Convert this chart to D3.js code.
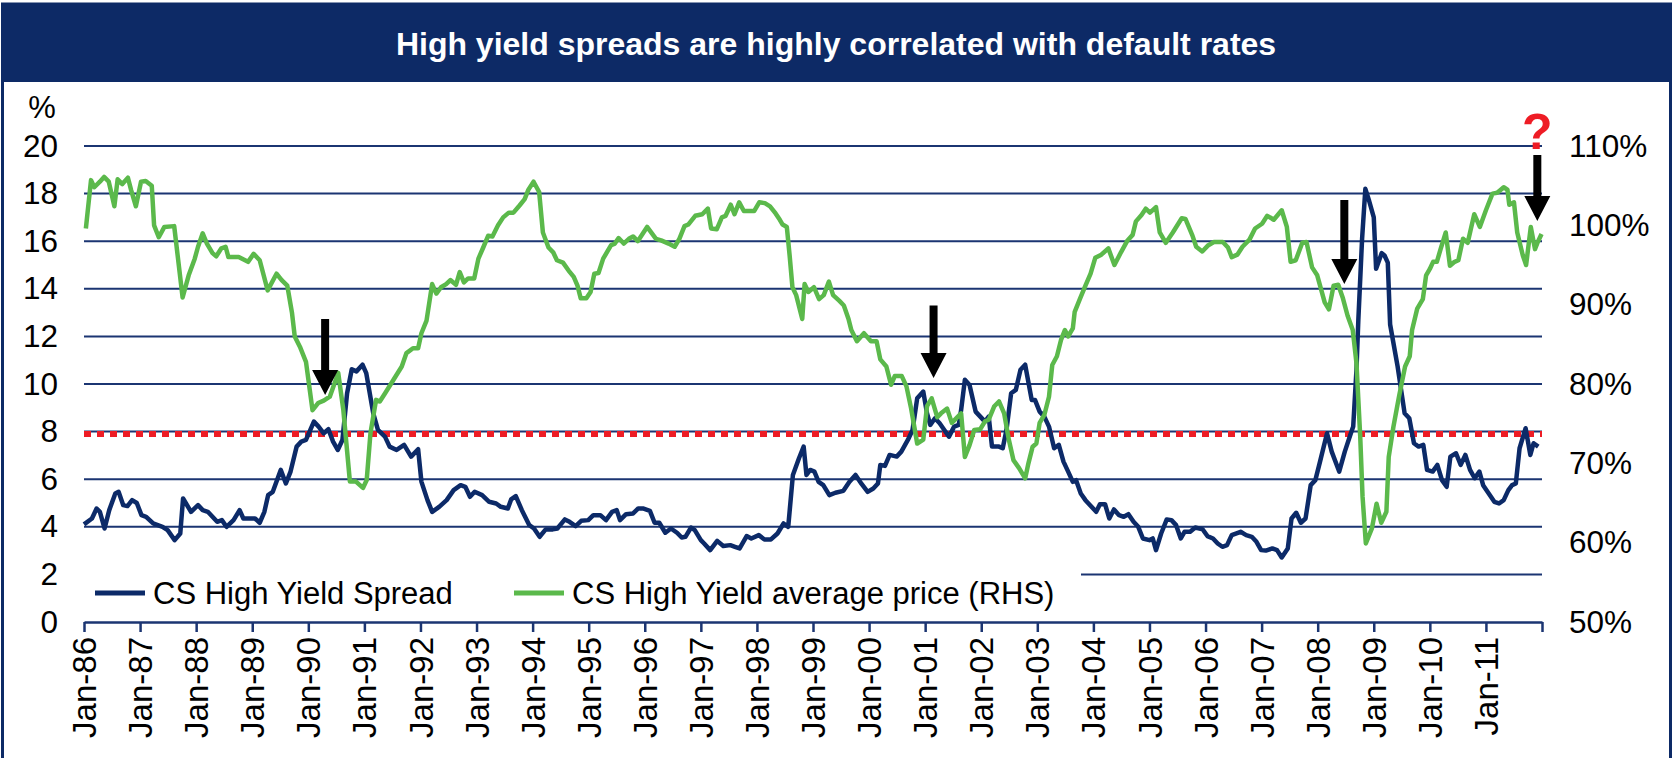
<html>
<head>
<script src="https://cdnjs.cloudflare.com/ajax/libs/d3/7.8.5/d3.min.js"></script>
<style>
    body { margin: 0; background: #ffffff; }
    svg text { font-family: "Liberation Sans", Arial, sans-serif; }
    .grid line { stroke: #1b3572; stroke-width: 2; }
    .axis path, .axis line { stroke: #1b3572; stroke-width: 2.5; }
    .axis text { font-size: 31.5px; fill: #000; }
    .xaxis text { font-size: 33px; }
</style>
</head>
<body>
<svg id="chart" width="1673" height="758"></svg>
<script>
// x axis: months since Jan-86, one label per January
var tickLabels = ["Jan-86","Jan-87","Jan-88","Jan-89","Jan-90","Jan-91","Jan-92","Jan-93","Jan-94","Jan-95",
    "Jan-96","Jan-97","Jan-98","Jan-99","Jan-00","Jan-01","Jan-02","Jan-03","Jan-04","Jan-05",
    "Jan-06","Jan-07","Jan-08","Jan-09","Jan-10","Jan-11"];
var leftTicks = [0,2,4,6,8,10,12,14,16,18,20];
var rightTicks = [50,60,70,80,90,100,110];

// CS High Yield Spread (%)
var spreadMonths = [0,1.7,2.7,3.4,4.4,5.4,6.7,7.4,8.4,9.3,10.3,11.3,12.3,13.3,14.8,16.8,17.9,19.4,20.6,21.2,
    22.9,24.4,25.4,26.5,27.5,28.5,29.5,30.5,32,33.3,34.1,36.6,37.6,38.6,39.4,40.4,42.1,43.2,44.2,45.5,
    46.5,47.5,49.2,50.2,51.3,52.3,53.3,54.3,55.3,56.3,57.3,58.3,59.6,60.4,61.9,62.9,64.4,65.4,66.9,68.5,
    70,71.5,72.2,73.5,74.5,76,77.6,79.1,80.6,81.6,82.6,83.6,85.2,86.7,88.2,89.2,90.7,91.4,92.4,93.7,
    95.3,96.3,97.5,98.8,100.3,101.3,102.9,103.9,105.2,106.4,107.9,109,110.5,111.7,113,114,114.7,116,117.5,118.6,
    119.6,121.1,122.1,123.1,124.4,125.6,126.9,127.9,128.7,129.9,130.7,132,132.7,134,135.5,136.8,138.3,139.3,140.3,141.8,
    142.8,144.4,145.6,147,148.4,149.7,150.7,151.7,153,154,154.6,155.4,156.3,157.2,158.2,159.5,160.8,162.5,163.8,165.1,
    166.4,167.7,168.9,169.9,170.4,171.4,172.4,173.9,174.9,176.3,177.3,178.3,179.6,180.4,181.1,182.1,183.1,184.1,185.1,186.2,
    187.2,187.7,188.5,189.5,190.8,191.8,192.8,193.6,194.3,195.8,196.6,197.4,198.4,199.4,200.4,201.4,202.8,203.5,204.5,205.5,
    206.5,207.6,208.6,209.6,210.6,211.6,212.3,213.3,214.3,215.6,216.6,217.4,218.5,219.4,220.4,221.5,222.5,223.5,224.6,225.6,
    226.6,228,228.7,229.4,230.5,231.7,232.7,233.7,234.7,235.5,236.7,237.8,239.4,240.4,241.6,242.6,243.6,244.6,245.6,247.5,
    248.7,249.9,250.9,251.9,252.9,254.3,255.3,256.3,257.6,258.4,259.4,260.4,261.4,262.5,263.5,264.5,266,267,268.6,269.8,
    271.1,271.6,272.3,272.7,273.5,274.2,275,276,276.5,277.7,278.3,279,279.5,281.1,282.6,283.6,284.6,285.6,286.6,287.4,
    288.6,289.6,290.6,291.6,292.4,293.6,294.6,295.6,296.6,297.6,298.6,299.4,300.6,301.8,302.8,303.8,304.8,305.6,306.4,307.2,
    308.5,309.5,310.2,311.2];
var spreadValues = [4.1,4.35,4.77,4.63,3.93,4.7,5.4,5.47,4.91,4.87,5.12,5.0,4.49,4.42,4.14,4.0,3.86,3.44,3.72,5.19,
    4.63,4.91,4.7,4.63,4.42,4.21,4.28,4.0,4.28,4.7,4.35,4.35,4.17,4.63,5.33,5.47,6.39,5.82,6.32,7.37,
    7.58,7.65,8.42,8.21,7.93,8.1,7.58,7.23,7.65,9.61,10.62,10.53,10.81,10.46,8.77,8.07,7.79,7.37,7.23,7.44,
    6.95,7.26,5.9,5.12,4.63,4.84,5.12,5.54,5.75,5.68,5.26,5.47,5.33,5.05,4.98,4.84,4.77,5.15,5.29,4.7,
    4.07,3.93,3.58,3.89,3.89,3.93,4.31,4.21,4.03,4.25,4.28,4.49,4.49,4.28,4.63,4.7,4.28,4.53,4.56,4.77,
    4.77,4.67,4.17,4.17,3.75,3.93,3.75,3.55,3.58,3.97,3.86,3.44,3.3,3.02,3.41,3.19,3.23,3.16,3.09,3.61,
    3.51,3.65,3.47,3.47,3.72,4.14,4.0,6.18,6.88,7.37,6.18,6.39,6.32,5.89,5.75,5.33,5.43,5.51,5.89,6.18,
    5.8,5.47,5.61,5.82,6.6,6.56,7.02,6.95,7.16,7.65,8.07,9.4,9.68,8.77,8.28,8.56,8.35,8.07,7.79,8.21,
    8.28,8.91,10.18,9.96,8.84,8.63,8.42,8.63,7.37,7.37,7.3,8.07,9.61,9.75,10.6,10.81,9.33,9.33,8.84,8.63,
    8.21,7.3,7.44,6.74,6.32,5.89,5.96,5.4,5.12,4.84,4.63,4.95,4.95,4.35,4.73,4.49,4.42,4.53,4.21,4.0,
    3.51,3.44,3.51,3.02,3.72,4.31,4.28,4.07,3.51,3.79,3.79,3.97,3.89,3.61,3.51,3.3,3.16,3.23,3.65,3.79,
    3.65,3.58,3.37,3.02,3.0,3.09,3.02,2.71,3.09,4.35,4.59,4.17,4.35,5.75,5.96,6.74,7.93,7.16,6.32,7.16,
    7.93,8.21,10.6,12.7,16.1,18.2,17.7,17.0,14.84,15.5,15.4,15.1,12.5,10.74,8.77,8.56,7.51,7.37,7.44,6.39,
    6.32,6.6,5.96,5.68,6.95,7.09,6.6,7.02,6.39,6.04,6.32,5.75,5.4,5.05,4.98,5.12,5.54,5.75,5.82,7.3,
    8.14,7.02,7.51,7.37];

// CS High Yield average price (% of par, RHS)
var priceMonths = [0.4,1.5,2.2,3.4,4.3,5.3,6.5,7.2,8.2,9.4,10.1,11.1,12.2,13.2,14.5,15,16,17.2,19.3,21.1,
    22.4,23.7,24.4,25.4,26.3,27.5,28.3,29.4,30.3,30.9,33.1,35.1,36.3,37.6,39.3,41.2,42.3,43.5,44.5,45.1,
    46.2,47.5,48.9,50.1,51.3,52.6,54.4,55.5,56.9,58.2,59.7,60.5,61.3,62.5,63.3,64.4,66.2,68,69,70.4,
    71.5,72.2,73.3,74.5,75.4,76.4,77.5,78.4,79.6,80.4,81.3,82.2,83.5,84.4,85.5,86.5,87.4,88.6,89.7,90.9,
    91.9,93.2,94.3,95.1,96.2,97.4,98.2,99.4,100.4,101.2,102.5,103.7,104.8,105.6,106.3,107.5,108.4,109.2,110.1,111.1,
    112.1,112.8,113.6,114.4,115.5,116.6,117.5,118.5,120.5,122.4,123.5,125.1,126.4,127.4,128.5,129.3,130.8,132.3,133.5,134.2,
    135.4,136.5,137.3,138.4,139.2,140.2,141.2,143.4,144.5,145.7,146.8,148,148.9,149.5,150.4,151,151.6,152.4,153.7,154.2,
    155,156.2,157.3,158.3,159.4,160.3,161.6,162.6,163.6,164.2,165.4,166.9,168.4,169.6,170.4,171.7,172.7,173.5,175,176,
    177,178.3,179.6,180.4,181.4,182.6,183.4,184.7,185.7,186.7,187.7,188.5,189.5,190.5,191.8,192.8,193.6,194.8,195.8,196.9,
    197.9,198.9,200.1,201.4,202.1,203,203.8,204.5,205.5,206.5,207.2,208.2,209.1,209.9,210.6,211.6,212,213.1,214.3,215.4,
    216.4,217.7,219.2,220.5,221.9,223.3,224.4,225.1,226.3,227.2,228.1,229.4,230.2,231.5,233,234.9,235.7,237.2,238,239.3,
    240.6,241.8,243.7,244.8,245.6,246.8,247.9,249.4,250.6,252.1,253.2,254.6,256.3,257.4,258.2,259.3,260.7,261.6,262.8,263.9,
    264.7,265.5,266.4,267.4,268.4,269.4,270.4,271.5,272.3,273.1,273.6,274.3,275.6,276.6,277.6,278.7,279.2,280.2,281.4,282.7,
    283.7,284.2,285.3,286.5,287.2,288,288.7,289.5,290.3,291.4,292.3,293.3,294.1,295.1,296.1,297.5,298.7,300,301.4,302.4,
    303,303.8,304.6,305,306,306.7,307.9,308.6,309.6,310.5,311.1,311.9];
var priceValues = [99.6,105.7,104.8,105.5,106.1,105.5,102.4,105.8,105.2,106.0,104.4,102.4,105.5,105.6,105.0,100.0,98.5,99.8,99.9,90.9,
    93.7,95.8,97.3,99.0,97.7,96.5,96.1,97.1,97.3,96.0,96.0,95.4,96.4,95.6,91.8,93.9,93.1,92.4,89.0,86.0,
    84.7,82.8,76.7,77.6,77.9,78.4,81.4,76.7,67.7,67.7,66.9,67.9,73.8,78.0,77.8,78.8,80.5,82.2,83.9,84.5,
    84.5,86.4,88.0,92.6,91.4,92.2,92.6,93.1,92.5,94.1,92.8,93.3,93.3,95.8,97.3,98.7,98.6,100.0,101.0,101.6,
    101.6,102.5,103.3,104.5,105.5,104.2,99.1,97.2,96.6,95.6,95.3,94.3,93.5,92.4,90.8,90.8,91.6,93.9,94.0,95.8,
    96.8,97.5,97.7,98.4,97.7,98.3,98.6,98.0,99.8,98.3,98.1,97.7,97.3,98.3,99.9,100.1,101.2,101.4,102.1,99.6,
    99.5,101.0,101.2,102.6,101.4,102.9,101.8,101.8,102.9,102.8,102.4,101.5,100.7,100.1,99.8,96.2,92.2,91.2,88.2,92.6,
    91.6,92.2,90.7,91.2,92.9,91.2,90.5,89.9,88.2,86.8,85.4,86.4,85.4,85.4,83.1,82.2,79.9,81.0,81.0,79.7,
    76.9,72.5,73.0,77.2,78.2,75.8,76.3,76.9,75.1,75.7,76.3,70.8,72.3,74.2,74.3,75.3,75.5,77.2,77.8,76.3,
    73.0,70.4,69.4,68.1,70.0,72.1,72.5,75.1,76.1,78.4,82.4,83.5,85.6,86.8,86.0,87.0,89.1,90.7,92.4,93.9,
    95.9,96.3,97.1,95.0,96.6,98.1,98.8,100.5,101.3,102.1,101.6,102.3,99.1,97.8,99.1,100.9,100.8,98.7,97.3,96.7,
    97.5,97.9,97.9,97.2,96.0,96.3,97.3,98.2,99.6,100.2,101.2,100.7,101.9,99.8,95.4,95.6,97.8,97.9,94.7,93.7,
    92.0,90.3,89.4,92.4,92.5,90.8,88.6,86.8,82.6,73.4,65.8,59.9,61.8,64.9,62.5,63.9,70.8,74.6,78.4,82.2,
    83.5,86.8,89.5,90.7,93.7,94.5,95.4,95.4,97.0,99.1,94.9,95.4,95.6,98.3,97.8,101.4,99.8,101.9,104.0,104.1,
    104.4,104.8,104.5,102.6,102.9,99.1,96.2,95.0,99.8,97.0,97.9,98.9];

var thresholdValue = 7.9;

// arrows: month, shaft top and tip on the left axis
var arrowMonths = [51.6, 181.8, 269.7, 311];
var arrowTops = [12.73, 13.3, 17.73, 19.62];
var arrowTips = [9.54, 10.25, 14.2, 16.85];

var svg = d3.select("#chart");
var navy = "#0c2a68", green = "#5bb94b";

var x = d3.scaleLinear().domain([0, 312]).range([84, 1542]);
var yL = d3.scaleLinear().domain([0, 20]).range([622, 146]);
var yR = d3.scaleLinear().domain([50, 110]).range([622, 146]);

// frame and title band
svg.append("rect").attr("x", 2.5).attr("y", 4).attr("width", 1668).attr("height", 770)
    .attr("fill", "none").attr("stroke", "#0d2a66").attr("stroke-width", 3);
svg.append("rect").attr("x", 1).attr("y", 4).attr("width", 1671).attr("height", 78).attr("fill", "#0d2a66");
svg.append("text").attr("x", 836).attr("y", 55).attr("text-anchor", "middle")
    .style("font-size", "32px").style("font-weight", "bold").style("fill", "#ffffff")
    .text("High yield spreads are highly correlated with default rates");

// gridlines
svg.append("g").attr("class", "grid")
    .selectAll("line")
    .data(leftTicks.filter(d => d > 0))
    .enter()
    .append("line")
    .attr("x1", x(0)).attr("x2", x(312))
    .attr("y1", d => yL(d)).attr("y2", d => yL(d));

// left axis labels
var leftAxis = svg.append("g").attr("class", "axis")
    .attr("transform", "translate(" + x(0) + ",0)")
    .call(d3.axisLeft(yL).tickValues(leftTicks).tickSize(0).tickPadding(26));
leftAxis.select(".domain").remove();

svg.append("text").attr("x", 42).attr("y", 118).attr("text-anchor", "middle")
    .style("font-size", "31px").text("%");

// right axis labels
var rightAxis = svg.append("g").attr("class", "axis")
    .attr("transform", "translate(" + x(312) + ",0)")
    .call(d3.axisRight(yR).tickValues(rightTicks).tickFormat(d => d + "%").tickSize(0).tickPadding(27));
rightAxis.select(".domain").remove();

// bottom axis
var bottomAxis = svg.append("g").attr("class", "axis xaxis")
    .attr("transform", "translate(0," + yL(0) + ")")
    .call(d3.axisBottom(x).tickValues(d3.range(0, 313, 12)).tickSizeInner(10).tickSizeOuter(0)
        .tickFormat((d, i) => tickLabels[i] || ""));
bottomAxis.selectAll("text")
    .attr("transform", "rotate(-90)")
    .attr("x", -15).attr("y", 0).attr("dy", "0.35em")
    .style("text-anchor", "end");

// legend box hides the 2% gridline
svg.append("rect").attr("x", x(0)).attr("y", 566).attr("width", 997).attr("height", 46).attr("fill", "#ffffff");
var legend = [
    {name: "CS High Yield Spread", color: navy, x: 95},
    {name: "CS High Yield average price (RHS)", color: green, x: 514}
];
legend.forEach(function(l) {
    svg.append("line").attr("x1", l.x).attr("x2", l.x + 50).attr("y1", 593).attr("y2", 593)
        .attr("stroke", l.color).attr("stroke-width", 5);
    svg.append("text").attr("x", l.x + 58).attr("y", 604).style("font-size", "31px").text(l.name);
});

// 8% dotted threshold
svg.append("line")
    .attr("x1", x(0)).attr("x2", x(312))
    .attr("y1", yL(thresholdValue)).attr("y2", yL(thresholdValue))
    .attr("stroke", "#ee1c25").attr("stroke-width", 6).attr("stroke-dasharray", "7,6");

// series
var spreadLine = d3.line().x(d => x(d[0])).y(d => yL(d[1]));
var priceLine = d3.line().x(d => x(d[0])).y(d => yR(d[1]));

svg.append("path")
    .datum(d3.zip(spreadMonths, spreadValues))
    .attr("d", spreadLine)
    .attr("fill", "none").attr("stroke", navy).attr("stroke-width", 4.5).attr("stroke-linejoin", "round");

svg.append("path")
    .datum(d3.zip(priceMonths, priceValues))
    .attr("d", priceLine)
    .attr("fill", "none").attr("stroke", green).attr("stroke-width", 4.5).attr("stroke-linejoin", "round");

// arrows
arrowMonths.forEach(function(m, i) {
    var cx = x(m), y0 = yL(arrowTops[i]), y1 = yL(arrowTips[i]);
    var hh = 25, hw = 13, sw = 4;
    var pts = [[cx - sw, y0], [cx + sw, y0], [cx + sw, y1 - hh], [cx + hw, y1 - hh], [cx, y1],
        [cx - hw, y1 - hh], [cx - sw, y1 - hh]];
    svg.append("polygon").attr("points", pts.map(p => p.join(",")).join(" ")).attr("fill", "#000");
});

svg.append("text").attr("x", x(311)).attr("y", yL(19.87)).attr("text-anchor", "middle")
    .style("font-size", "50px").style("font-weight", "bold").style("fill", "#ee1c25").text("?");
</script>
</body>
</html>
